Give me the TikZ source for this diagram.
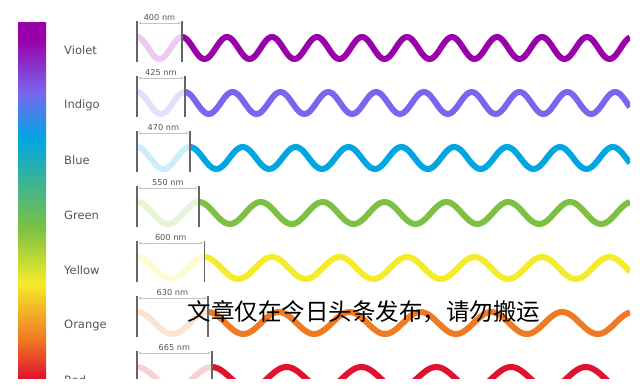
\documentclass[tikz,border=0pt]{standalone}
\usepackage{fontspec}
\setsansfont{DejaVu Sans}
\newfontfamily\cjk{Noto Sans CJK SC}
\usetikzlibrary{arrows.meta}
\definecolor{ondaVioleta}{HTML}{9900AA}
\definecolor{ondaIndigo}{HTML}{7A66EE}
\definecolor{ondaAzul}{HTML}{00A6E4}
\definecolor{ondaVerde}{HTML}{7CC142}
\definecolor{ondaAmarillo}{HTML}{F4EC2A}
\definecolor{ondaNaranja}{HTML}{F07A24}
\definecolor{ondaRojo}{HTML}{E0122E}
\definecolor{grisTexto}{HTML}{555555}
\definecolor{grisCota}{HTML}{C4C4C4}
\definecolor{grisTope}{HTML}{666666}
\pgfdeclareverticalshading{espectro}{100bp}{color(0bp)=(ondaRojo); color(25bp)=(ondaRojo);
  color(30.5bp)=(ondaNaranja); color(38.4bp)=(ondaAmarillo); color(46bp)=(ondaVerde);
  color(58.8bp)=(ondaAzul); color(65.3bp)=(ondaIndigo); color(72.6bp)=(ondaVioleta);
  color(100bp)=(ondaVioleta)}

\begin{document}
\begin{tikzpicture}[x=1pt, y=-1pt, font=\sffamily, >=Latex,
        etiqueta/.style={anchor=west, text=grisTexto, inner sep=0pt,
            font=\sffamily\fontsize{11.5}{13}\selectfont},
        medida/.style={text=grisTexto, inner sep=0pt, font=\sffamily\fontsize{8.2}{9}\selectfont},
        cota/.style={{Latex[length=3pt,width=3pt]}-{Latex[length=3pt,width=3pt]}, draw=grisCota, line width=0.8pt},
        tope/.style={draw=grisTope, line width=1.4pt},
        onda/.style={line width=6pt}]
    \useasboundingbox (0,0) rectangle (640,387);
    \begin{scope}
        \clip (0,0) rectangle (630,378);
        \shade[shading=espectro] (18,23) rectangle (46,378);
        \foreach \i/\n/\c/\nm in {0/Violet/ondaVioleta/400, 1/Indigo/ondaIndigo/425,
                2/Blue/ondaAzul/470, 3/Green/ondaVerde/550, 4/Yellow/ondaAmarillo/600,
                5/Orange/ondaNaranja/630, 6/Red/ondaRojo/665} {
            \pgfmathsetmacro\yc{48+55*\i}
            \pgfmathsetmacro\lam{0.1125*\nm}
            \pgfmathsetmacro\xb{137+\lam}
            \pgfmathsetmacro\k{360/\lam}
            \node[etiqueta] (etq\i) at (64,{\yc+2}) {\n};
            % un periodo en claro, luego la onda
            \draw[onda, draw=\c!20] plot[domain=137:\xb, samples=40, smooth]
                (\x, {\yc-11*cos(\k*(\x-137))});
            \draw[onda, draw=\c] plot[domain=\xb:630, samples=260, smooth]
                (\x, {\yc-11*cos(\k*(\x-137))});
            \coordinate (supA\i) at (137,{\yc-27});
            \coordinate (infA\i) at (137,{\yc+14});
            \coordinate (supB\i) at (\xb,{\yc-27});
            \coordinate (infB\i) at (\xb,{\yc+14});
            \coordinate (cotaA\i) at (138,{\yc-25});
            \coordinate (cotaB\i) at ({\xb-1},{\yc-25});
            \draw[tope] (supA\i) -- (infA\i);
            \draw[tope] (supB\i) -- (infB\i);
            \draw[cota] (cotaA\i) -- (cotaB\i);
            \node[medida, fill=white, inner xsep=1pt] (nm\i) at ({137+\lam/2},{\yc-30}) {\nm\ nm};
        }
    \end{scope}
    \node[font=\cjk\fontsize{23.5}{26}\selectfont, inner sep=0pt] (aviso) at (364,312) {文章仅在今日头条发布，请勿搬运};
\end{tikzpicture}
\end{document}
